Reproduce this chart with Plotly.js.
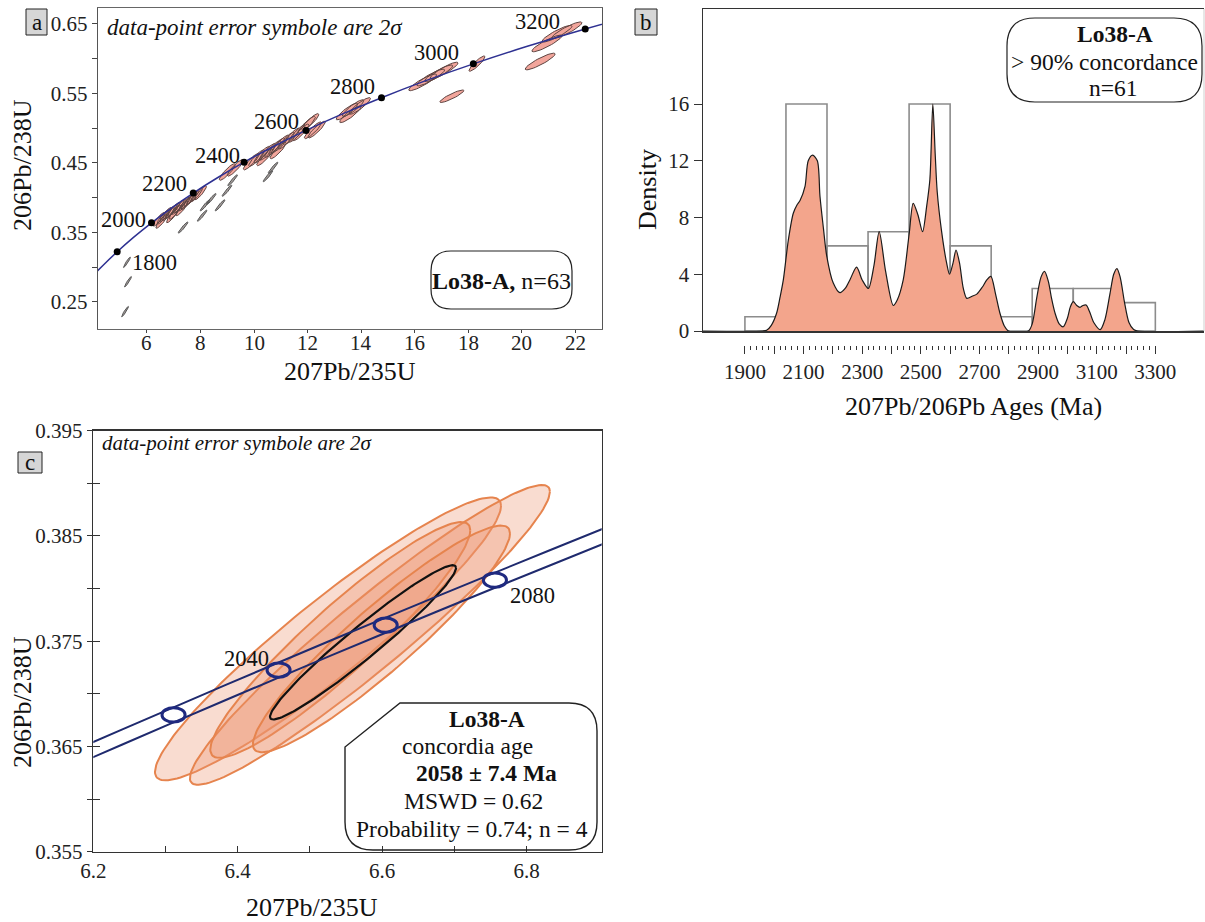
<!DOCTYPE html>
<html><head><meta charset="utf-8">
<script src="https://cdn.plot.ly/plotly-3.0.1.min.js"></script>
<style>body{margin:0;background:#fff}#chart{width:1205px;height:922px}</style>
</head><body><div id="chart"></div>
<script>
const W = 1205, H = 922;
const FONT = 'Liberation Serif, Times New Roman, serif';

// ---------------- Panel a : concordia diagram (all data) ----------------
const concAgesA = [1650,1700,1800,1900,2000,2100,2200,2300,2400,2500,2600,2700,2800,2900,3000,3100,3200,3250];
const concXA = [4.078,4.335,4.887,5.496,6.169,6.911,7.729,8.633,9.630,10.730,11.944,13.284,14.762,16.393,18.194,20.180,22.373,23.552];
const concYA = [0.2917,0.3018,0.3221,0.3428,0.3638,0.3851,0.4067,0.4287,0.4511,0.4737,0.4968,0.5202,0.5439,0.5681,0.5926,0.6175,0.6428,0.6556];
const concMarkAges = [1800,2000,2200,2400,2600,2800,3000,3200];

// data-point ellipses: centre, 2-sigma errors, correlation, group (1 = concordant, 0 = grey)
const aEllX = [6.45,6.55,6.60,6.70,6.80,6.90,6.95,7.00,7.05,7.15,7.25,7.30,7.40,7.50,7.60,7.70,7.85,8.00,
  9.00,9.30,9.90,10.10,10.30,10.40,10.50,10.70,10.85,10.90,11.00,11.20,11.40,11.60,11.75,
  11.97,12.20,12.34,12.10,
  13.47,13.60,13.70,13.95,
  16.30,16.60,16.90,17.10,18.33,17.39,
  20.69,20.94,21.32,21.69,
  5.18,5.29,5.25,7.35,8.06,8.17,8.73,8.99,8.40,9.20,10.34,10.71,10.52];
const aEllY = [0.369,0.366,0.372,0.376,0.377,0.380,0.374,0.383,0.379,0.386,0.388,0.384,0.391,0.393,0.397,0.400,0.404,0.407,
  0.437,0.443,0.452,0.457,0.462,0.458,0.466,0.470,0.474,0.468,0.478,0.482,0.488,0.492,0.494,
  0.505,0.497,0.498,0.509,
  0.524,0.520,0.529,0.532,
  0.566,0.573,0.579,0.583,0.593,0.546,
  0.596,0.622,0.636,0.641,
  0.236,0.279,0.307,0.357,0.374,0.389,0.389,0.410,0.398,0.425,0.457,0.443,0.431];
const aEllSx = [0.22,0.22,0.22,0.22,0.22,0.22,0.22,0.22,0.22,0.22,0.22,0.22,0.22,0.22,0.22,0.22,0.22,0.22,
  0.3,0.3,0.3,0.3,0.3,0.3,0.3,0.3,0.3,0.3,0.3,0.3,0.3,0.3,0.3,
  0.32,0.32,0.32,0.32,
  0.4,0.4,0.4,0.4,
  0.52,0.52,0.52,0.52,0.3,0.45,
  0.56,0.56,0.56,0.56,
  0.13,0.13,0.13,0.18,0.18,0.18,0.18,0.18,0.18,0.18,0.18,0.18,0.18];
const aEllSy = [0.01,0.01,0.01,0.01,0.01,0.01,0.01,0.01,0.01,0.01,0.01,0.01,0.01,0.01,0.01,0.01,0.01,0.01,
  0.012,0.012,0.012,0.012,0.012,0.012,0.012,0.012,0.012,0.012,0.012,0.012,0.012,0.012,0.012,
  0.012,0.012,0.012,0.012,
  0.012,0.012,0.012,0.012,
  0.012,0.012,0.012,0.012,0.011,0.009,
  0.012,0.012,0.012,0.012,
  0.0075,0.0075,0.0075,0.008,0.008,0.008,0.008,0.008,0.008,0.008,0.008,0.008,0.008];
const aEllRho = 0.9;
const aEllGroup = [1,1,1,1,1,1,1,1,1,1,1,1,1,1,1,1,1,1, 1,1,1,1,1,1,1,1,1,1,1,1,1,1,1, 1,1,1,1, 1,1,1,1, 1,1,1,1,1,1, 1,1,1,1,
  0,0,0,0,0,0,0,0,0,0,0,0,0];
const aXTicks = [6,8,10,12,14,16,18,20,22];
const aXTickText = ['6','8','10','12','14','16','18','20','22'];
const aYTicks = [0.25,0.35,0.45,0.55,0.65];
const aYTickText = ['0.25','0.35','0.45','0.55','0.65'];

// ---------------- Panel b : KDE + histogram ----------------
const binCenters = [1970,2110,2250,2390,2530,2670,2810,2950,3090,3230];
const binHeights = [1,16,6,7,16,6,1,3,3,2];
const binWidth = 140;
const kdeAge = [1757,1960,1974,1990,2008,2020,2031,2048,2065,2078,2088,2105,2116,2131,2147,2156,2168,2179,2201,2224,2242,2258,2281,2300,2321,2340,2358,2380,2406,2420,2440,2460,2474,2490,2506,2520,2531,2541,2549,2556,2571,2588,2598,2610,2620,2632,2645,2657,2675,2691,2710,2725,2739,2755,2770,2785,2799,2867,2880,2896,2910,2922,2935,2946,2958,2972,2986,3000,3010,3020,3032,3043,3053,3064,3075,3090,3112,3128,3145,3158,3169,3180,3195,3210,3226,3240,3466];
const kdeDens = [0,0,0.05,0.4,1.25,2.4,3.6,6.4,8.3,8.9,9.2,10.2,12.0,12.4,12.0,9.5,7.2,5.3,3.4,2.7,3.0,3.6,4.5,3.6,3.0,4.6,7.0,4.2,1.8,2.2,3.6,6.8,9.0,8.2,7.0,8.8,10.7,16.0,12.5,9.8,7.0,4.8,4.0,4.8,5.7,4.8,3.0,2.3,2.45,2.6,3.1,3.6,3.85,2.6,1.25,0.35,0,0,0.5,2.4,3.8,4.2,3.5,2.3,1.25,0.5,0.3,0.9,1.7,2.07,1.8,1.67,1.8,1.83,1.4,0.6,0.1,0.8,2.6,4.0,4.4,3.8,2.0,0.6,0.1,0,0];
const pointAges = [2019,2047,2055,2063,2070,2077,2084,2090,2097,2102,2104,2110,2117,2124,2131,2140,2150,2163,2186,2195,2224,2258,2286,2327,2340,2355,2370,2422,2440,2455,2470,2485,2497,2515,2522,2527,2531,2535,2539,2543,2545,2547,2551,2556,2563,2572,2583,2617,2628,2674,2708,2736,2753,2901,2924,2947,3020,3066,3151,3170,3191];
const bTickVals = [1900,2000,2100,2200,2300,2400,2500,2600,2700,2800,2900,3000,3100,3200,3300];
const bTickText = ['1900','','2100','','2300','','2500','','2700','','2900','','3100','','3300'];
const bYTicks = [0,4,8,12,16];

// ---------------- Panel c : concordia age ----------------
const cAges = [2000,2010,2020,2030,2040,2050,2060,2070,2080,2090,2100];
const cConcX = [6.16852,6.23948,6.31112,6.38349,6.45656,6.53036,6.60488,6.68016,6.75616,6.83294,6.91046];
const cConcY = [0.36377,0.36588,0.36800,0.37013,0.37226,0.37439,0.37652,0.37866,0.38080,0.38294,0.38509];
const cBandHalf = 0.00072;
const cMarkAges = [2020,2040,2060,2080];
const cEllX = [6.525,6.583,6.542,6.599];
const cEllY = [0.37522,0.37560,0.37512,0.37522];
const cEllSx = [0.2396,0.2493,0.180,0.178];
const cEllSy = [0.01344,0.01424,0.0112,0.01077];
const cEllRho = [0.94,0.955,0.93,0.93];
const concAgeEll = {x:6.5735, y:0.37489, sx:0.1288, sy:0.00733, rho:0.965};
const cXTicks = [6.2,6.4,6.6,6.8];
const cXTickText = ['6.2','6.4','6.6','6.8'];
const cYTicks = [0.355,0.365,0.375,0.385,0.395];
const cYTickText = ['0.355','0.365','0.375','0.385','0.395'];

// ---------------- helpers ----------------
function ellPts(cx,cy,sx,sy,rho,n){
  const xs=[],ys=[],k=Math.sqrt(1-rho*rho);
  for(let i=0;i<=n;i++){const t=2*Math.PI*i/n; xs.push(cx+sx*Math.cos(t)); ys.push(cy+sy*(rho*Math.cos(t)+k*Math.sin(t)));}
  return [xs,ys];
}
function P(x,y){return (x/W).toFixed(5)+','+(1-y/H).toFixed(5);}
function rrect(x0,y0,x1,y1,r){
  return `M${P(x0+r,y0)} L${P(x1-r,y0)} Q${P(x1,y0)} ${P(x1,y0+r)} L${P(x1,y1-r)} Q${P(x1,y1)} ${P(x1-r,y1)} L${P(x0+r,y1)} Q${P(x0,y1)} ${P(x0,y1-r)} L${P(x0,y0+r)} Q${P(x0,y0)} ${P(x0+r,y0)} Z`;
}
function ann(text,px,py,o){
  o=o||{};
  return Object.assign({text:text,xref:'paper',yref:'paper',x:px/W,y:1-py/H,showarrow:false,xanchor:'center',yanchor:'middle',
    font:{family:FONT,size:o.size||22,color:'#111'}},o.extra||{});
}

const traces = [];

// panel a ellipses
[0,1].forEach(g=>{
  const xs=[],ys=[];
  aEllX.forEach((cx,i)=>{ if(aEllGroup[i]!==g) return;
    const [ex,ey]=ellPts(cx,aEllY[i],aEllSx[i],aEllSy[i],g?aEllRho:0.95,40);
    xs.push(...ex,null); ys.push(...ey,null); });
  traces.push({type:'scatter',mode:'lines',x:xs,y:ys,xaxis:'x',yaxis:'y',fill:'toself',
    fillcolor:g?'#f2a59b':'#a39c9a',line:{color:g?'#5e4542':'#555',width:1},hoverinfo:'skip'});
});
traces.push({type:'scatter',mode:'lines',x:concXA,y:concYA,xaxis:'x',yaxis:'y',line:{color:'#2e3192',width:1.5,shape:'spline'},hoverinfo:'skip'});
const mIdx = concAgesA.map((a,i)=>concMarkAges.includes(a)?i:-1).filter(i=>i>=0);
traces.push({type:'scatter',mode:'markers',x:mIdx.map(i=>concXA[i]),y:mIdx.map(i=>concYA[i]),xaxis:'x',yaxis:'y',
  marker:{color:'#000',size:7},hoverinfo:'skip'});

// panel b
traces.push({type:'scatter',mode:'lines',x:kdeAge,y:kdeDens,xaxis:'x2',yaxis:'y2',fill:'tozeroy',fillcolor:'#f3a58c',
  line:{color:'#1a1a1a',width:1.2,shape:'spline',smoothing:0.8},hoverinfo:'skip'});
traces.push({type:'bar',x:binCenters,y:binHeights,width:binWidth,xaxis:'x2',yaxis:'y2',
  marker:{color:'rgba(0,0,0,0)',line:{color:'#8c8c8c',width:1.6}},hoverinfo:'skip'});
traces.push({type:'scatter',mode:'markers',x:pointAges,y:pointAges.map(()=>-0.33),xaxis:'x2',yaxis:'y2',cliponaxis:false,
  marker:{symbol:'circle-open',size:5.5,color:'#555',line:{width:0.8}},hoverinfo:'skip'});
traces.push({type:'scatter',mode:'markers',x:[2000],y:[-100],xaxis:'x4',yaxis:'y2',marker:{opacity:0},hoverinfo:'skip'});

// panel c
cEllX.forEach((cx,i)=>{
  const [ex,ey]=ellPts(cx,cEllY[i],cEllSx[i],cEllSy[i],cEllRho[i],160);
  traces.push({type:'scatter',mode:'lines',x:ex,y:ey,xaxis:'x3',yaxis:'y3',fill:'toself',fillcolor:'rgba(238,150,112,0.33)',
    line:{color:'#e6844e',width:2},hoverinfo:'skip'});
});
{
  const [ex,ey]=ellPts(concAgeEll.x,concAgeEll.y,concAgeEll.sx,concAgeEll.sy,concAgeEll.rho,160);
  traces.push({type:'scatter',mode:'lines',x:ex,y:ey,xaxis:'x3',yaxis:'y3',line:{color:'#111',width:2.2},hoverinfo:'skip'});
}
traces.push({type:'scatter',mode:'lines',x:cConcX,y:cConcY.map(v=>v+cBandHalf),xaxis:'x3',yaxis:'y3',line:{color:'#1f2a6e',width:2,shape:'spline'},hoverinfo:'skip'});
traces.push({type:'scatter',mode:'lines',x:cConcX,y:cConcY.map(v=>v-cBandHalf),xaxis:'x3',yaxis:'y3',line:{color:'#1f2a6e',width:2,shape:'spline'},hoverinfo:'skip'});
traces.push({type:'scatter',mode:'markers',x:[6.3],y:[0],xaxis:'x3',yaxis:'y5',marker:{opacity:0},hoverinfo:'skip'});

const shapes = [];
cMarkAges.forEach(a=>{
  const i=cAges.indexOf(a);
  shapes.push({type:'circle',xref:'x3',yref:'y3',x0:cConcX[i]-0.016,x1:cConcX[i]+0.016,y0:cConcY[i]-0.00068,y1:cConcY[i]+0.00068,
    line:{color:'#1f2a80',width:3}});
});
shapes.push({type:'line',xref:'paper',yref:'paper',x0:1204/W,x1:1204/W,y0:1-331/H,y1:1-9/H,line:{color:'#cfcfcf',width:1}});
[[26,9,47,35],[635,9,657,35],[18,452,42,473]].forEach(b=>{
  shapes.push({type:'rect',xref:'paper',yref:'paper',x0:b[0]/W,x1:b[2]/W,y0:1-b[3]/H,y1:1-b[1]/H,fillcolor:'#d6d6d6',line:{color:'#222',width:1}});
});
shapes.push({type:'path',xref:'paper',yref:'paper',path:rrect(431,251,572,309,20),line:{color:'#222',width:1.2}});
shapes.push({type:'path',xref:'paper',yref:'paper',path:rrect(1007,18,1202,102,28),line:{color:'#222',width:1.2}});
{
  const r=28;
  const p=`M${P(400,703)} L${P(597-r,703)} Q${P(597,703)} ${P(597,703+r)} L${P(597,850-r)} Q${P(597,850)} ${P(597-r,850)} L${P(345+r,850)} Q${P(345,850)} ${P(345,850-r)} L${P(345,747)} Z`;
  shapes.push({type:'path',xref:'paper',yref:'paper',path:p,line:{color:'#222',width:1.4}});
}

const annotations = [
  ann('a',36.5,22,{size:23}), ann('b',646,22,{size:23}), ann('c',30,462.5,{size:23}),
  // panel a
  ann('206Pb/238U',22,165,{size:26,extra:{textangle:-90}}),
  ann('207Pb/235U',350,372,{size:26}),
  ann('<i>data-point error symbole are 2σ</i>',105,27,{size:23,extra:{xanchor:'left'}}),
  ann('1800',155,262,{size:22.5}), ann('2000',123,219,{size:22.5}), ann('2200',164,183,{size:22.5}),
  ann('2400',217,155,{size:22.5}), ann('2600',276,122,{size:22.5}), ann('2800',352,86,{size:22.5}),
  ann('3000',436,52,{size:22.5}), ann('3200',537,21,{size:22.5}),
  ann('<b>Lo38-A,</b> n=63',501,281,{size:24}),
  // panel b
  ann('Density',647,190,{size:26,extra:{textangle:-90}}),
  ann('207Pb/206Pb Ages (Ma)',973,407,{size:26}),
  ann('<b>Lo38-A</b>',1115,34,{size:23.5}),
  ann('> 90% concordance',1104,62,{size:23.5}),
  ann('n=61',1113,88,{size:23.5}),
  // panel c
  ann('<i>data-point error symbole are 2σ</i>',100,443,{size:21,extra:{xanchor:'left'}}),
  ann('206Pb/238U',22,702,{size:26,extra:{textangle:-90}}),
  ann('207Pb/235U',312,907,{size:26}),
  ann('2040',246,658,{size:22.5}), ann('2080',532,595,{size:22.5}),
  ann('<b>Lo38-A</b>',487,719,{size:23.5}),
  ann('concordia age',467,746,{size:23.5}),
  ann('<b>2058 ± 7.4 Ma</b>',486,773,{size:23.5}),
  ann('MSWD = 0.62',473,801,{size:23.5}),
  ann('Probability = 0.74; n = 4',472,829,{size:23.5})
];
// panel a x tick labels placed just under the axis
aXTicks.forEach((v,i)=>{
  annotations.push({text:aXTickText[i],xref:'x',yref:'paper',x:v,y:1-343/H,showarrow:false,xanchor:'center',yanchor:'middle',
    font:{family:FONT,size:21,color:'#222'}});
});

const axBase = {showgrid:false,zeroline:false,tickfont:{family:FONT,size:21,color:'#222'},fixedrange:true};
const layout = {
  width:W,height:H,margin:{l:0,r:0,t:0,b:0},paper_bgcolor:'#fff',plot_bgcolor:'rgba(0,0,0,0)',showlegend:false,
  font:{family:FONT,size:21,color:'#222'},bargap:0,
  xaxis:Object.assign({},axBase,{domain:[98/W,602/W],anchor:'y',range:[4.17,23.0],tickmode:'array',tickvals:aXTicks,showticklabels:false,
    ticks:'outside',ticklen:3,tickcolor:'#444',showline:true,linecolor:'#666',linewidth:1.3,mirror:true}),
  yaxis:Object.assign({},axBase,{domain:[1-329/H,1-8/H],anchor:'x',range:[0.211,0.673],tickmode:'array',tickvals:aYTicks,ticktext:aYTickText,
    ticks:'outside',ticklen:5,tickcolor:'#444',minor:{tickmode:'array',tickvals:[0.3,0.4,0.5,0.6],ticks:'outside',ticklen:5,tickcolor:'#444'},
    showline:true,linecolor:'#555',linewidth:1.3,mirror:true}),
  xaxis2:Object.assign({},axBase,{domain:[703/W,1204/W],anchor:'y2',range:[1757,3466],ticks:'',showticklabels:false,
    showline:true,linecolor:'#333',linewidth:1.5,mirror:true}),
  yaxis2:Object.assign({},axBase,{domain:[1-331/H,1-9/H],anchor:'x2',range:[0,22.7],tickmode:'array',tickvals:bYTicks,
    ticks:'outside',ticklen:8,tickcolor:'#333',showline:true,linecolor:'#333',linewidth:1.5}),
  xaxis4:Object.assign({},axBase,{overlaying:'x2',anchor:'free',position:1-345/H,range:[1757,3466],tickmode:'array',
    tickvals:bTickVals,ticktext:bTickText,ticks:'outside',ticklen:8,tickcolor:'#333',
    minor:{tickmode:'array',tickvals:bTickVals.slice(0,-1).flatMap(v=>[v+20,v+40,v+60,v+80]),ticks:'outside',ticklen:4,tickcolor:'#333'},
    showline:false}),
  xaxis3:Object.assign({},axBase,{domain:[93.3/W,601.7/W],anchor:'y3',range:[6.2,6.904],tickmode:'array',tickvals:cXTicks,ticktext:cXTickText,
    ticks:'inside',ticklen:6,tickcolor:'#333',minor:{tickmode:'array',tickvals:[6.3,6.5,6.7],ticks:'inside',ticklen:6,tickcolor:'#333'},
    showline:true,linecolor:'#333',linewidth:1.5,mirror:true}),
  yaxis3:Object.assign({},axBase,{domain:[1-851.7/H,1-430.7/H],anchor:'x3',range:[0.355,0.395],tickmode:'array',tickvals:cYTicks,ticktext:cYTickText,
    ticks:'outside',ticklen:5,tickcolor:'#333',minor:{tickmode:'array',tickvals:[0.36,0.37,0.38,0.39],ticks:'outside',ticklen:5,tickcolor:'#333'},
    showline:true,linecolor:'#333',linewidth:1.5,mirror:true}),
  yaxis5:Object.assign({},axBase,{overlaying:'y3',anchor:'x3',side:'left',range:[0.355,0.395],tickmode:'array',
    tickvals:[0.355,0.36,0.365,0.37,0.375,0.38,0.385,0.39,0.395],ticks:'inside',ticklen:7,tickcolor:'#333',showticklabels:false,showline:false}),
  shapes:shapes,
  annotations:annotations
};

Plotly.newPlot('chart',traces,layout,{displayModeBar:false,staticPlot:true});
</script>
</body></html>
